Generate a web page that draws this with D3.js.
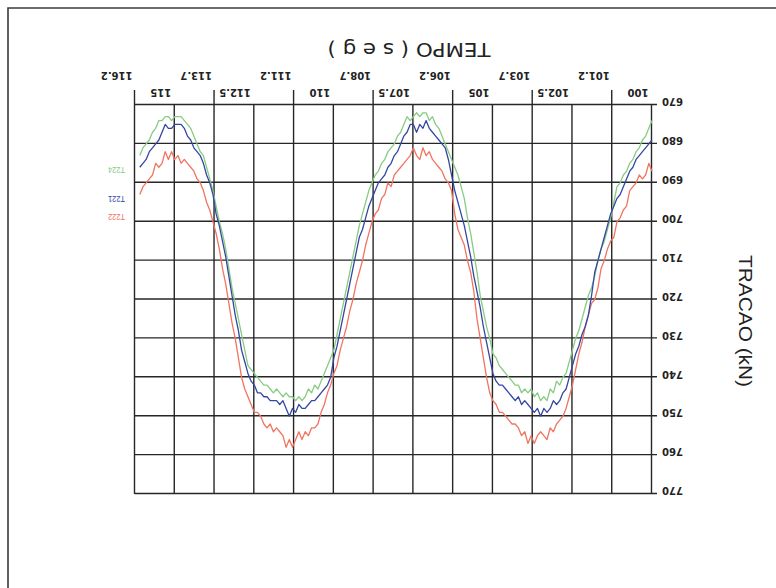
<!DOCTYPE html>
<html>
<head>
<meta charset="utf-8">
<script src="https://cdn.jsdelivr.net/npm/d3@7"></script>
<style>
  html, body { margin: 0; padding: 0; background: #ffffff; }
  svg { display: block; }
</style>
</head>
<body>
<svg id="chart" width="776" height="588"></svg>
<script>
// Tension record (kN) sampled every 0.1 s from t = 100 s
const startTime = 100;
const timeStep = 0.1;

// T222 (red)
const t222 = [
  687,685,688,689,688,690,691,692,696,697,
  699,700,704,705,707,710,712,717,720,721,
  724,727,731,734,738,742,745,748,750,751,
  752,754,753,756,755,754,755,757,755,757,
  754,755,753,752,752,751,750,749,749,747,
  746,744,740,735,730,725,718,713,710,706,
  704,702,698,692,690,689,687,686,685,684,
  682,683,681,684,683,681,683,684,685,686,
  687,688,691,690,693,694,697,698,700,703,
  706,710,713,716,720,723,727,730,733,737,
  739,742,744,747,749,752,753,753,755,754,
  756,754,756,758,756,758,755,754,753,754,
  752,753,752,750,749,749,747,745,743,740,
  735,730,726,721,716,712,707,703,700,697,
  695,692,690,689,687,686,685,684,685,683,
  684,682,684,682,685,686,685,688,689,690,
  691,693
];

// T221 (blue)
const t221 = [
  679,680,681,682,683,684,686,687,689,691,
  693,694,696,698,701,704,707,710,713,719,
  724,727,729,732,734,737,740,743,744,746,
  747,746,748,749,748,750,748,749,748,747,
  746,747,745,746,745,744,743,742,742,741,
  739,735,731,727,722,718,714,709,705,701,
  698,695,692,688,684,681,680,679,678,677,
  676,674,676,675,677,675,675,677,678,680,
  682,683,685,686,688,689,690,692,694,696,
  699,702,704,708,712,716,720,724,728,732,
  735,740,742,743,744,745,746,746,747,748,
  748,747,749,748,750,748,746,747,746,746,
  746,745,745,744,744,742,741,739,736,733,
  728,724,719,714,709,705,701,698,693,690,
  688,685,683,682,681,679,678,676,675,675,
  675,676,676,675,677,679,680,681,682,684,
  685,686
];

// T224 (green)
const t224 = [
  674,676,678,679,681,682,684,685,687,688,
  690,691,695,699,702,705,707,710,714,717,
  719,722,725,728,730,733,736,739,740,742,
  741,744,743,746,745,746,744,745,743,744,
  743,744,742,742,741,740,739,738,737,735,
  734,730,727,723,719,713,708,703,699,694,
  691,688,686,684,682,680,678,676,675,673,
  674,672,672,673,672,673,674,673,675,677,
  678,680,681,682,684,685,687,688,690,692,
  695,698,701,705,709,713,717,721,725,729,
  733,735,737,739,741,743,742,744,743,745,
  746,745,746,745,745,744,745,744,743,744,
  743,742,742,741,740,739,738,737,733,729,
  725,721,717,712,707,703,700,696,692,689,
  686,683,682,680,678,676,675,674,673,673,
  673,674,673,673,674,674,676,677,679,680,
  681,683
];

const seriesNames  = ["T222", "T221", "T224"];
const seriesColors = ["#f07460", "#3447a2", "#86cc82"];

// Axis ticks and their printed labels
const yTicks = [670, 680, 690, 700, 710, 720, 730, 740, 750, 760, 770];
const xGridTicks = [100, 101.25, 102.5, 103.75, 105, 106.25, 107.5, 108.75, 110, 111.25, 112.5, 113.75, 115, 116.25];
const xRow1Ticks  = [100, 102.5, 105, 107.5, 110, 112.5, 115];
const xRow1Labels = ["100", "102.5", "105", "107.5", "110", "112.5", "115"];
const xRow2Ticks  = [101.25, 103.75, 106.25, 108.75, 111.25, 113.75, 116.25];
const xRow2Labels = ["101.2", "103.7", "106.2", "108.7", "111.2", "113.7", "116.2"];

const W = 776, H = 588;
const plot = { left: 124, right: 641, top: 94, bottom: 483 };

const svg = d3.select("#chart");
svg.append("rect").attr("width", W).attr("height", H).attr("fill", "#ffffff");

// The sheet is printed turned through 180 degrees
const page = svg.append("g").attr("transform", `rotate(180 ${W / 2} ${H / 2})`);

// page frame
page.append("path")
  .attr("d", `M768,-5 L768,580 L-5,580`)
  .attr("fill", "none").attr("stroke", "#3a3a3a").attr("stroke-width", 1.6);

const x = d3.scaleLinear().domain([100, 116.25]).range([plot.left, plot.right]);
const y = d3.scaleLinear().domain([670, 770]).range([plot.bottom, plot.top]);

const gridColor = "#262626";
const labelFont = "'DejaVu Sans', sans-serif";

// horizontal grid + value labels
const yAxis = page.append("g")
  .attr("transform", `translate(${plot.right},0)`)
  .call(d3.axisLeft(y).tickValues(yTicks).tickSize(plot.right - plot.left + 5).tickPadding(5).tickFormat(d3.format("d")));
yAxis.select(".domain").remove();
yAxis.selectAll(".tick line").attr("stroke", gridColor).attr("stroke-width", 1.4);
yAxis.selectAll(".tick text")
  .attr("y", 3)
  .attr("fill", "#222")
  .style("font-family", labelFont).style("font-size", "10px").style("font-weight", "bold");

// vertical grid
const xGrid = page.append("g")
  .attr("transform", `translate(0,${plot.bottom})`)
  .call(d3.axisBottom(x).tickValues(xGridTicks).tickSize(-(plot.bottom - plot.top)).tickFormat(""));
xGrid.select(".domain").remove();
xGrid.selectAll(".tick line").attr("stroke", gridColor).attr("stroke-width", 1.4);

// first row of time labels
const xRow1 = page.append("g")
  .attr("transform", `translate(0,${plot.bottom})`)
  .call(d3.axisBottom(x).tickValues(xRow1Ticks).tickSize(0).tickPadding(9)
    .tickFormat((d, i) => xRow1Labels[i]));
xRow1.select(".domain").remove();
xRow1.selectAll(".tick text")
  .attr("text-anchor", "start").attr("x", 3)
  .attr("fill", "#222")
  .style("font-family", labelFont).style("font-size", "10px").style("font-weight", "bold");

// second row, with the longer ticks
const xRow2 = page.append("g")
  .attr("transform", `translate(0,${plot.bottom})`)
  .call(d3.axisBottom(x).tickValues(xRow2Ticks).tickSize(15).tickPadding(11)
    .tickFormat((d, i) => xRow2Labels[i]));
xRow2.select(".domain").remove();
xRow2.selectAll(".tick line").attr("stroke", gridColor).attr("stroke-width", 1.4);
xRow2.selectAll(".tick text")
  .attr("text-anchor", "start").attr("x", 2)
  .attr("fill", "#222")
  .style("font-family", labelFont).style("font-size", "10px").style("font-weight", "bold");

// axis titles
page.append("text")
  .attr("x", 367).attr("y", 545)
  .attr("text-anchor", "middle")
  .attr("fill", "#222")
  .style("font-family", labelFont).style("font-size", "19px")
  .attr("textLength", 163).attr("lengthAdjust", "spacingAndGlyphs")
  .text("TEMPO ( s e g )");

page.append("text")
  .attr("transform", "translate(37,267) rotate(-90)")
  .attr("text-anchor", "middle")
  .attr("fill", "#222")
  .style("font-family", "'Liberation Sans', Arial, sans-serif").style("font-size", "18px")
  .attr("textLength", 132).attr("lengthAdjust", "spacingAndGlyphs")
  .text("TRACAO (kN)");

// series lines
const line = d3.line()
  .x((d, i) => x(startTime + i * timeStep))
  .y(d => y(d));

const drawOrder = [
  { name: "T224", values: t224, color: seriesColors[2] },
  { name: "T222", values: t222, color: seriesColors[0] },
  { name: "T221", values: t221, color: seriesColors[1] }
];
page.append("g").selectAll("path")
  .data(drawOrder)
  .join("path")
  .attr("d", d => line(d.values))
  .attr("fill", "none")
  .attr("stroke", d => d.color)
  .attr("stroke-width", 1.3)
  .attr("stroke-linejoin", "round");

// series labels beside the plot
const legendY = { T222: 374, T221: 392, T224: 421 };
page.append("g").selectAll("text")
  .data(seriesNames)
  .join("text")
  .attr("x", 651)
  .attr("y", d => legendY[d])
  .attr("fill", (d, i) => seriesColors[i])
  .style("font-family", "'Liberation Sans Narrow', 'Liberation Sans', sans-serif")
  .style("font-size", "9px")
  .attr("textLength", 17).attr("lengthAdjust", "spacingAndGlyphs")
  .text(d => d);
</script>
</body>
</html>
